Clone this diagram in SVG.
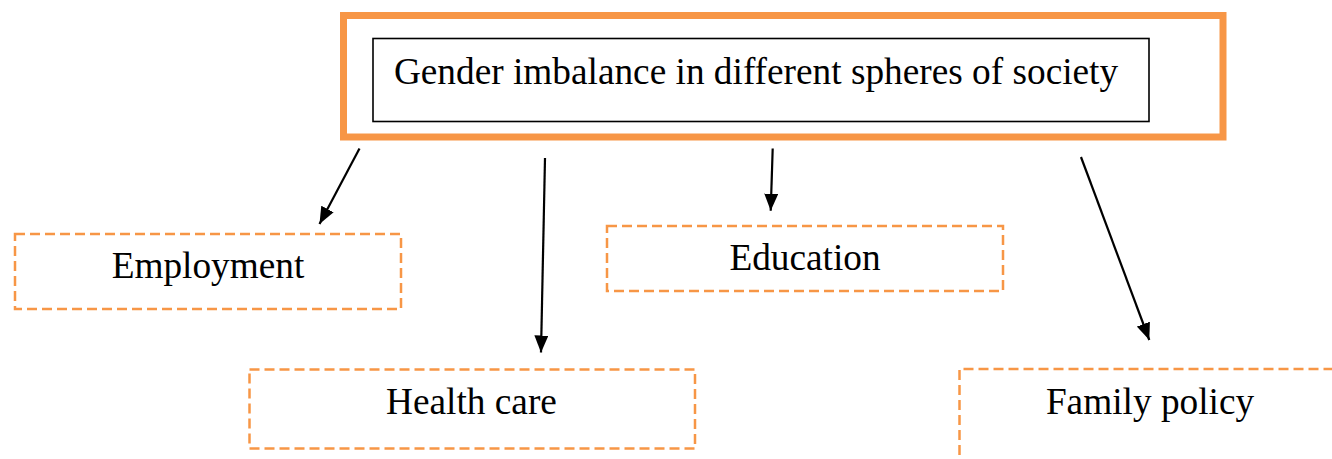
<svg xmlns="http://www.w3.org/2000/svg" width="1332" height="459" viewBox="0 0 1332 459">
<style>
text{font-family:"Liberation Serif","Times New Roman",serif;font-size:37.3px;fill:#000;text-anchor:middle}
.dash{fill:none;stroke:#F79646;stroke-width:2.5;stroke-dasharray:10 5}
.conn{stroke:#000;stroke-width:2.2;fill:none;marker-end:url(#ah)}
</style>
<defs>
<marker id="ah" markerUnits="userSpaceOnUse" markerWidth="17" markerHeight="14" refX="17" refY="7" orient="auto" viewBox="0 0 17 14">
<path d="M0,0 L17,7 L0,14 z" fill="#000"/>
</marker>
</defs>
<g id="root">
<rect x="343.5" y="15.5" width="879.5" height="121.5" fill="#fff" stroke="#F79646" stroke-width="7"/>
<rect x="373" y="38.5" width="776" height="83" fill="#fff" stroke="#000" stroke-width="1.6"/>
<text x="756" y="84">Gender imbalance in different spheres of society</text>
</g>
<g id="employment">
<rect class="dash" x="15" y="234" width="386" height="75"/>
<text x="208" y="278">Employment</text>
</g>
<g id="education">
<rect class="dash" x="607" y="226" width="396" height="65"/>
<text x="805" y="270">Education</text>
</g>
<g id="healthcare">
<rect class="dash" x="249.5" y="369.5" width="445.5" height="79"/>
<text x="471.5" y="414">Health care</text>
</g>
<g id="familypolicy">
<path class="dash" d="M959.5,455 L959.5,369 L1340,369"/>
<text x="1150" y="414">Family policy</text>
</g>
<g id="connectors">
<line class="conn" x1="359.5" y1="148.5" x2="319.5" y2="224"/>
<line class="conn" x1="545" y1="158" x2="541" y2="352.5"/>
<line class="conn" x1="772.7" y1="148.5" x2="770.7" y2="210.7"/>
<line class="conn" x1="1081" y1="157" x2="1149.3" y2="340"/>
</g>
</svg>
